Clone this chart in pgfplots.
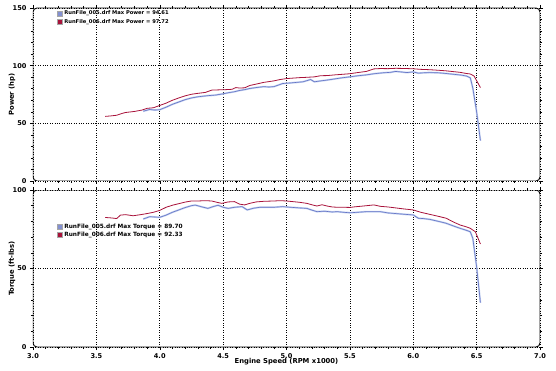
\documentclass[border=0pt]{standalone}
\usepackage{pgfplots}
\pgfplotsset{compat=1.18}
\usepackage{pgfplotstable}
\usepackage{fontspec}
\setmainfont{DejaVu Sans}
\definecolor{redl}{HTML}{A8123A}
\definecolor{bluel}{HTML}{6474C6}
\definecolor{blueh}{HTML}{C2CFEF}
\pgfplotstableread{
rpm hp
3.57 56.0
3.62 56.5
3.66 57.0
3.70 58.5
3.73 59.4
3.80 60.3
3.86 61.5
3.90 63.0
3.95 63.5
4.00 65.5
4.05 67.5
4.10 70.0
4.15 72.0
4.20 73.8
4.25 75.2
4.30 76.0
4.36 76.8
4.41 78.8
4.46 79.0
4.52 79.2
4.57 79.5
4.60 81.0
4.63 80.6
4.67 80.8
4.71 82.8
4.76 84.0
4.82 85.5
4.90 86.8
4.95 88.0
5.00 88.8
5.05 89.2
5.10 89.6
5.16 89.9
5.22 90.3
5.27 91.3
5.32 91.4
5.38 92.0
5.44 92.5
5.50 93.0
5.56 94.0
5.63 95.0
5.69 97.2
5.74 97.5
5.80 97.4
5.86 97.7
5.92 97.6
6.00 97.3
6.06 96.8
6.13 96.5
6.20 96.0
6.26 95.5
6.32 94.8
6.37 94.2
6.42 93.2
6.45 92.8
6.48 91.0
6.50 87.0
6.53 81.0
}\powred
\pgfplotstableread{
rpm hp
3.87 60.5
3.92 62.0
3.96 61.5
4.00 61.8
4.05 64.0
4.10 66.5
4.15 68.5
4.20 70.5
4.25 72.0
4.30 73.0
4.38 74.0
4.44 74.5
4.49 75.4
4.54 76.5
4.59 77.4
4.63 78.5
4.67 79.2
4.71 80.2
4.76 81.0
4.82 81.8
4.86 81.5
4.90 81.8
4.97 84.5
5.03 85.0
5.08 85.5
5.13 86.0
5.19 88.0
5.22 86.0
5.27 86.8
5.32 87.5
5.38 88.5
5.44 89.5
5.50 90.3
5.56 91.2
5.63 92.0
5.69 93.0
5.76 93.8
5.82 94.2
5.86 95.0
5.90 94.6
5.95 94.0
6.00 94.6
6.04 93.5
6.08 93.8
6.13 94.0
6.20 93.8
6.26 93.2
6.32 92.5
6.38 91.8
6.42 91.0
6.45 89.5
6.47 80.5
6.50 60.0
6.53 35.0
}\powblue
\pgfplotstableread{
rpm tq
3.57 82.5
3.62 82.2
3.66 81.8
3.69 84.0
3.73 84.3
3.79 83.6
3.85 84.3
3.90 85.0
3.95 85.8
4.00 87.0
4.05 89.0
4.10 90.3
4.15 91.3
4.20 92.3
4.25 93.0
4.30 93.0
4.36 93.2
4.41 93.0
4.46 92.0
4.49 91.5
4.54 92.4
4.59 92.6
4.63 91.0
4.67 90.5
4.71 91.5
4.76 92.4
4.82 92.8
4.90 93.0
4.95 93.2
5.00 93.0
5.05 92.6
5.10 92.2
5.16 91.5
5.20 90.6
5.24 89.8
5.28 90.6
5.32 89.8
5.36 89.2
5.40 89.0
5.45 89.0
5.50 88.9
5.54 89.3
5.58 89.6
5.63 90.0
5.69 90.5
5.74 89.6
5.80 89.2
5.86 88.6
5.92 88.0
6.00 87.3
6.06 85.8
6.13 84.5
6.20 83.2
6.26 82.0
6.32 79.5
6.37 77.7
6.42 76.5
6.45 75.6
6.49 73.4
6.53 65.6
}\tqred
\pgfplotstableread{
rpm tq
3.87 81.5
3.92 83.0
3.96 82.8
4.00 82.6
4.05 84.0
4.10 85.8
4.15 87.3
4.20 88.8
4.25 90.0
4.28 90.4
4.33 89.3
4.38 88.3
4.42 89.4
4.46 90.3
4.50 89.0
4.54 88.3
4.59 89.0
4.65 89.4
4.69 87.3
4.74 88.4
4.79 89.0
4.85 89.0
4.90 89.0
4.97 89.4
5.03 89.0
5.10 88.6
5.16 88.3
5.20 87.2
5.24 86.2
5.30 86.5
5.36 86.0
5.40 86.2
5.45 85.8
5.50 85.5
5.56 85.8
5.63 86.2
5.69 86.2
5.74 86.2
5.80 85.4
5.86 85.0
5.92 84.6
6.00 84.1
6.04 82.0
6.08 81.8
6.13 81.3
6.20 80.0
6.26 78.8
6.32 77.0
6.37 75.6
6.42 74.3
6.45 73.4
6.47 69.2
6.50 51.0
6.53 28.2
}\tqblue
\pgfplotsset{
  dyno/.style={
    scale only axis, width=507pt,
    xmin=3, xmax=7,
    xtick={3,3.5,...,7}, minor x tick num=4,
    minor y tick num=4,
    grid=major,
    major grid style={black, dotted, line width=0.6pt},
    axis line style={draw=none},
    tick align=outside,
    major tick length=3pt, minor tick length=2pt,
    tick style={black, line width=0.5pt},
    ticklabel style={font=\fontsize{6.6}{7}\selectfont\bfseries},
    xticklabel style={/pgf/number format/.cd, fixed, fixed zerofill, precision=1},
    /pgf/number format/assume math mode=true,
    every axis y label/.style={at={(rel axis cs:-0.0414,0.5)}, anchor=center, rotate=90, font=\fontsize{6.8}{7}\selectfont\bfseries},
    legend cell align=left,
    legend style={draw=none, fill=none, inner sep=0.5pt},
  },
  redleg/.style={legend image code/.code={\draw[draw=gray!70, fill=redl] (0pt,-2.5pt) rectangle (5pt,2.5pt);}},
  blueleg/.style={legend image code/.code={\draw[draw=gray!70, fill=bluel!80] (0pt,-2.5pt) rectangle (5pt,2.5pt);}},
}
\begin{document}
\begin{tikzpicture}[x=1pt,y=1pt]
\path[use as bounding box] (0,0) rectangle (556,-371);
\begin{axis}[dyno, at={(33pt,-181pt)}, anchor=south west, height=173pt,
  ymin=0, ymax=150, ytick={0,50,100,150},
  xticklabels={},
  ylabel={Power (hp)},
  legend style={at={(rel axis cs:0.045,1.0)}, anchor=north west, font=\fontsize{5.2}{6}\selectfont\bfseries, row sep=-0.6pt},
]
\addplot[blueh, line width=1.8pt, forget plot] table[x=rpm,y=hp] {\powblue};
\addplot[bluel, line width=0.6pt, blueleg] table[x=rpm,y=hp] {\powblue};
\addplot[redl, line width=0.8pt, redleg] table[x=rpm,y=hp] {\powred};
\legend{RunFile\_005.drf Max Power = 94.61, RunFile\_006.drf Max Power = 97.72}
\draw[gray!55, line width=1.6pt] ([xshift=2pt]rel axis cs:1,0.97) -- ([xshift=2pt]rel axis cs:1,0.02);
\draw[black, line width=0.9pt, rounded corners=4pt] (rel axis cs:0,0) rectangle (rel axis cs:1,1);
\end{axis}
\begin{axis}[dyno, at={(33pt,-347pt)}, anchor=south west, height=157pt,
  ymin=0, ymax=100, ytick={0,50,100},
  ylabel={Torque (ft-lbs)},
  xlabel={Engine Speed (RPM x1000)},
  xlabel style={at={(rel axis cs:0.5,0)}, yshift=-15pt, anchor=center, font=\fontsize{6.8}{7}\selectfont\bfseries},
  legend style={at={(rel axis cs:0.045,0.80)}, anchor=north west, font=\fontsize{5.8}{6.4}\selectfont\bfseries, row sep=-1.6pt},
]
\addplot[blueh, line width=1.8pt, forget plot] table[x=rpm,y=tq] {\tqblue};
\addplot[bluel, line width=0.6pt, blueleg] table[x=rpm,y=tq] {\tqblue};
\addplot[redl, line width=0.8pt, redleg] table[x=rpm,y=tq] {\tqred};
\legend{RunFile\_005.drf Max Torque = 89.70, RunFile\_006.drf Max Torque = 92.33}
\draw[gray!55, line width=1.6pt] ([xshift=2pt]rel axis cs:1,0.97) -- ([xshift=2pt]rel axis cs:1,0.02);
\draw[black, line width=0.9pt, rounded corners=4pt] (rel axis cs:0,0) rectangle (rel axis cs:1,1);
\end{axis}
\end{tikzpicture}
\end{document}
